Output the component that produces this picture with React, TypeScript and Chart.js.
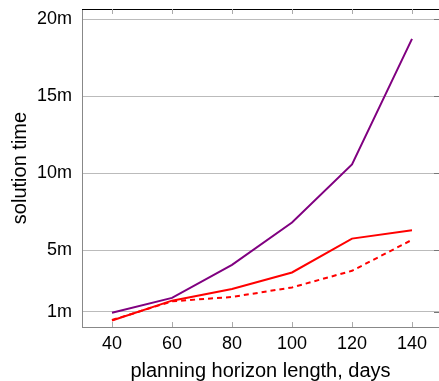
import React, { useEffect, useRef } from "react";
import { Chart, registerables } from "chart.js";

Chart.register(...registerables);

const horizons = [40, 60, 80, 100, 120, 140];
const purpleSeries = [0.92, 1.89, 4.04, 6.78, 10.56, 18.71];
const redSolid = [0.42, 1.71, 2.47, 3.54, 5.74, 6.29];
const redDashed = [0.45, 1.67, 1.95, 2.57, 3.65, 5.66];
const yTicks = [1, 5, 10, 15, 20];

const FONT = "'Liberation Sans', Arial, sans-serif";

const framePlugin = {
  id: "frame",
  afterDraw(chart: any) {
    const { ctx, chartArea, scales } = chart;
    const { left, right, top, bottom } = chartArea;
    ctx.save();
    ctx.strokeStyle = "#000";
    ctx.lineWidth = 1;
    ctx.beginPath();
    ctx.moveTo(left, top + 0.5);
    ctx.lineTo(right, top + 0.5);
    ctx.stroke();
    ctx.strokeStyle = "#aaa";
    for (const v of horizons) {
      const x = Math.round(scales.x.getPixelForValue(v)) + 0.5;
      ctx.beginPath();
      ctx.moveTo(x, top);
      ctx.lineTo(x, top + 5);
      ctx.moveTo(x, bottom);
      ctx.lineTo(x, bottom - 5);
      ctx.stroke();
    }
    ctx.strokeStyle = "#777";
    for (const v of yTicks) {
      const y = Math.round(scales.y.getPixelForValue(v)) + 0.5;
      ctx.beginPath();
      ctx.moveTo(right, y);
      ctx.lineTo(right - 5, y);
      ctx.stroke();
    }
    ctx.restore();
  },
};

export default function App() {
  const ref = useRef<HTMLCanvasElement>(null);
  useEffect(() => {
    document.body.style.margin = "0";
    const toPts = (arr: number[]) => horizons.map((h, i) => ({ x: h, y: arr[i] }));
    const chart = new Chart(ref.current!, {
      type: "line",
      data: {
        datasets: [
          { data: toPts(purpleSeries), borderColor: "#800080", borderWidth: 2, pointRadius: 0, tension: 0 },
          { data: toPts(redSolid), borderColor: "#ff0000", borderWidth: 2, pointRadius: 0, tension: 0 },
          {
            data: toPts(redDashed),
            borderColor: "#ff0000",
            borderWidth: 2,
            borderDash: [5, 4],
            pointRadius: 0,
            tension: 0,
          },
        ],
      },
      plugins: [framePlugin],
      options: {
        animation: false,
        responsive: false,
        layout: { padding: { top: 9, right: 0, left: 0, bottom: 0 } },
        plugins: { legend: { display: false }, tooltip: { enabled: false } },
        scales: {
          x: {
            type: "linear",
            min: 30,
            max: 149,
            afterBuildTicks: (scale: any) => {
              scale.ticks = horizons.map((v) => ({ value: v }));
            },
            afterFit: (scale: any) => {
              scale.height = 54;
              scale.paddingLeft = 0;
              scale.paddingRight = 0;
            },
            grid: { display: false, drawTicks: false },
            border: { display: true, color: "#888", width: 1 },
            ticks: {
              color: "#000",
              font: { family: FONT, size: 18 },
              padding: 6,
              maxRotation: 0,
            },
            title: {
              display: true,
              text: "planning horizon length, days",
              color: "#000",
              font: { family: FONT, size: 20 },
              padding: { top: 0, bottom: -2 },
            },
          },
          y: {
            type: "linear",
            min: 0,
            max: 20.65,
            afterBuildTicks: (scale: any) => {
              scale.ticks = yTicks.map((v) => ({ value: v }));
            },
            afterFit: (scale: any) => {
              scale.width = 82;
              scale.paddingTop = 0;
              scale.paddingBottom = 0;
            },
            grid: { color: "#bbb", drawTicks: false, lineWidth: 1 },
            border: { display: true, color: "#888", width: 1 },
            ticks: {
              color: "#000",
              font: { family: FONT, size: 18 },
              padding: 10,
              callback: (v: any) => v + "m",
            },
            title: {
              display: true,
              text: "solution time",
              color: "#000",
              font: { family: FONT, size: 20 },
              padding: { top: 8, bottom: 0 },
            },
          },
        },
      },
    } as any);
    return () => chart.destroy();
  }, []);
  return (
    <div style={{ position: "absolute", left: 0, top: 0, width: 439, height: 381 }}>
      <canvas ref={ref} width={439} height={381} style={{ width: 439, height: 381 }} />
    </div>
  );
}
